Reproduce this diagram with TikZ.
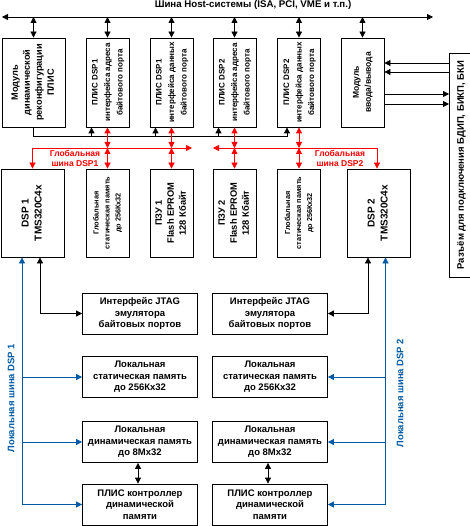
\documentclass[tikz,border=0pt]{standalone}
\usepackage{fontspec}
\setmainfont{Liberation Sans}
\usepackage{graphicx}
\usetikzlibrary{arrows.meta}
\definecolor{lbus}{RGB}{0,90,165}
\newcommand{\vtext}[1]{\rotatebox{90}{\begin{tabular}{@{}c@{}}#1\end{tabular}}}
\begin{document}
\begin{tikzpicture}[x=1pt, y=-1pt,
            wire/.style={line width=0.8pt, >={Triangle[length=6pt, width=6pt]}},
            blk/.style={draw, line width=0.8pt, inner sep=0pt, align=center},
            tbox/.style={blk, minimum width=43, minimum height=89, font=\fontsize{8}{12.5}\selectfont\bfseries},
            mbox/.style={blk, minimum width=43, minimum height=88},
            wbox/.style={blk, minimum width=115, minimum height=41, font=\fontsize{9.5}{11.5}\selectfont\bfseries}]
            \useasboundingbox (0, 0) rectangle (469, 526);
            \node (host) at (253, 5)[font=\fontsize{9.7}{11}\selectfont\bfseries]{Шина Host-системы (ISA, PCI, VME и т.п.)};
            \coordinate (hbl) at (2, 17);
            \coordinate (hbr) at (433, 17);
            \draw[wire, <->] (hbl) -- (hbr);
            \node (mrec) at (33.5, 82.5)[blk, minimum width=63, minimum height=89, font=\fontsize{9.2}{12}\selectfont\bfseries]{\vtext{Модуль\\динамической\\реконфигурации\\ПЛИС}};
            \foreach \n/\x/\d/\w in {pa1/107.5/1/адреса, pd1/171.5/1/данных, pa2/234.5/2/адреса, pd2/299/2/данных}
            {
            \node (\n) at (\x, 82.5)[tbox]{\vtext{ПЛИС DSP\d\\интерфейса \w\\байтового порта}};
            }
            \node (mio) at (362.5, 82.5)[tbox, font=\fontsize{8.5}{12}\selectfont\bfseries]{\vtext{Модуль\\ввода/вывода}};
            \node (conn) at (449, 165)[blk, anchor=west, minimum width=24, minimum height=224, font=\fontsize{9.5}{12}\selectfont\bfseries]{\vtext{Разъём для подключения БДИП, БИКП, БКИ}};
            \node (dsp1) at (32.5, 213)[mbox, minimum width=63, font=\fontsize{10}{13}\selectfont\bfseries]{\vtext{DSP 1\\TMS320C4x}};
            \node (gs1) at (107.5, 213)[mbox, font=\fontsize{7.3}{11}\selectfont\bfseries]{\vtext{Глобальная\\статическая память\\до 256Кх32}};
            \node (rom1) at (171.5, 213)[mbox, font=\fontsize{9.3}{12}\selectfont\bfseries]{\vtext{ПЗУ 1\\Flash EPROM\\128 Кбайт}};
            \node (rom2) at (234.5, 213)[mbox, font=\fontsize{9.3}{12}\selectfont\bfseries]{\vtext{ПЗУ 2\\Flash EPROM\\128 Кбайт}};
            \node (gs2) at (299, 213)[mbox, font=\fontsize{7.3}{11}\selectfont\bfseries]{\vtext{Глобальная\\статическая память\\до 256Кх32}};
            \node (dsp2) at (378.5, 213)[mbox, minimum width=63, font=\fontsize{10}{13}\selectfont\bfseries]{\vtext{DSP 2\\TMS320C4x}};
            \foreach \s/\x in {1/140, 2/270}
            {
            \node (jt\s) at (\x, 313.5)[wbox]{Интерфейс JTAG\\эмулятора\\байтовых портов};
            \node (st\s) at (\x, 377)[wbox]{Локальная\\статическая память\\до 256Кх32};
            \node (dy\s) at (\x, 442)[wbox]{Локальная\\динамическая память\\до 8Мх32};
            \node (ct\s) at (\x, 504.5)[wbox]{ПЛИС контроллер\\динамической\\памяти};
            \draw[wire, <->] ([xshift=-2pt]dy\s.south) -- ([xshift=-2pt]ct\s.north);
            }
            \foreach \n in {mrec, pa1, pd1, pa2, pd2, mio}
            {
            \draw[wire, <->] (\n.north |- hbl) -- (\n.north);
            }
            \foreach \y in {63, 72}
            {
            \draw[wire, ->] (conn.west |- 0, \y) -- (mio.east |- 0, \y);
            }
            \foreach \y in {94, 104}
            {
            \draw[wire, ->] (mio.east |- 0, \y) -- (conn.west |- 0, \y);
            }
            \draw[wire, ->] (mrec.south) -- ++(0, 9) -| ([xshift=-12pt]pd2.south);
            \foreach \n in {pa1, pd1, pa2}
            {
            \draw[wire, <-] ([xshift=-16pt]\n.south) -- ++(0, 9);
            }
            \coordinate (gb1) at (192, 148);
            \coordinate (gb2) at (213, 148);
            \draw[wire, red, <->] (gb1) -| (dsp1.north);
            \draw[wire, red, <->] (gb2) -| ([xshift=-1.5pt]dsp2.north);
            \foreach \t/\b in {pa1/gs1, pd1/rom1, pa2/rom2, pd2/gs2}
            {
            \draw[wire, red, <->] (\t.south) -- (\t.south |- gb1);
            \draw[wire, red, <->] (\t.south |- gb1) -- (\b.north);
            }
            \node (gl1) at (75, 158)[red, align=center, font=\fontsize{8.5}{10}\selectfont\bfseries]{Глобальная\\шина DSP1};
            \node (gl2) at (340, 158)[red, align=center, font=\fontsize{8.5}{10}\selectfont\bfseries]{Глобальная\\шина DSP2};
            \draw[wire, <->] (jt1.west) -| ([xshift=7.5pt]dsp1.south);
            \draw[wire, <->] (jt2.east) -| ([xshift=-10.5pt]dsp2.south);
            \coordinate (lb1) at ([xshift=-10.5pt]dsp1.south);
            \coordinate (lb2) at ([xshift=7pt]dsp2.south);
            \draw[wire, lbus, ->] (ct1.west -| lb1) -- (lb1);
            \draw[wire, lbus, ->] (ct2.east -| lb2) -- (lb2);
            \foreach \n in {st, dy, ct}
            {
            \draw[wire, lbus, ->] (\n1.west -| lb1) -- (\n1.west);
            \draw[wire, lbus, ->] (\n2.east -| lb2) -- (\n2.east);
            }
            \node (ll1) at (11, 398)[rotate=90, text=lbus, font=\fontsize{9.5}{11}\selectfont\bfseries]{Локальная шина DSP 1};
            \node (ll2) at (400, 393)[rotate=90, text=lbus, font=\fontsize{9.5}{11}\selectfont\bfseries]{Локальная шина DSP 2};
        \end{tikzpicture}
\end{document}
